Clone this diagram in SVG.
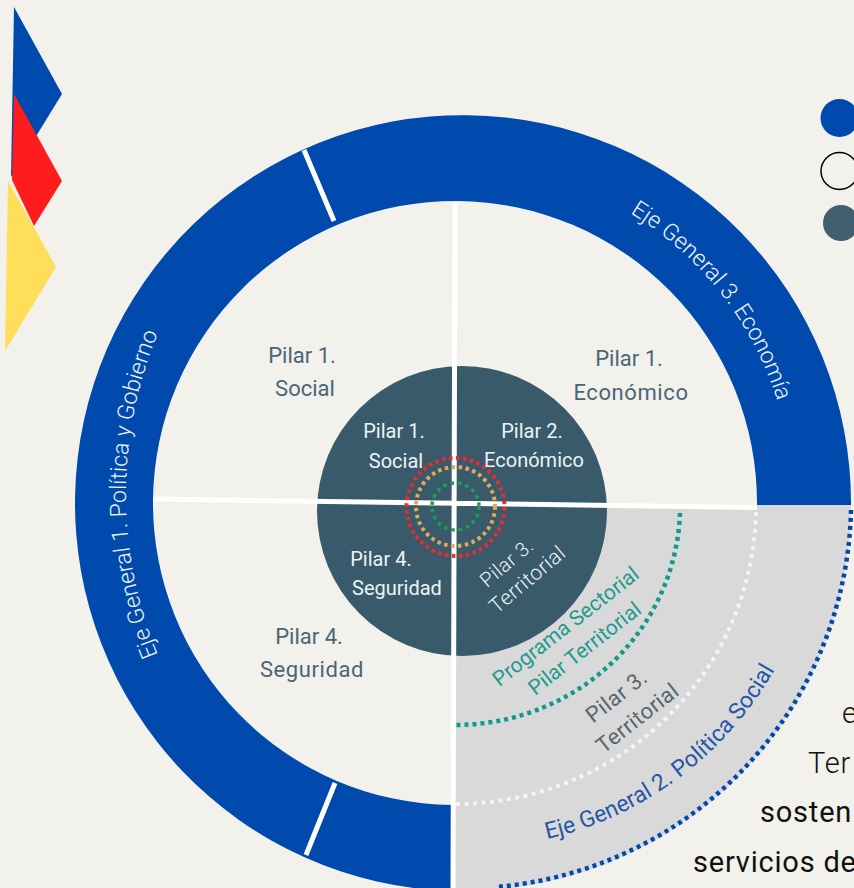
<svg xmlns="http://www.w3.org/2000/svg" width="854" height="888" viewBox="0 0 854 888">
<style>
text{font-family:"Roboto","Liberation Sans",sans-serif}
.w{fill:#eef3f4;font-size:20px;text-anchor:middle}
.r{fill:#eef3f4;font-size:23px;font-weight:300}
.s{fill:#4a6676;font-size:22px;text-anchor:middle}
.g{fill:#1c9c8e;font-size:21px;text-anchor:middle}
.t{fill:#55676f;font-size:22px;text-anchor:middle;letter-spacing:.4px}
.d{fill:none}
.b{fill:#111;font-size:29px;letter-spacing:.8px}
</style>
<defs>
<path id="arcR" d="M630 213A337 337 0 0 1 790 460" fill="none"/>
<path id="arcL" d="M158 655A420 420 0 0 1 171 305" fill="none"/>
<path id="arcB" d="M547 839A352 352 0 0 0 785 650" fill="none"/>
</defs>
<rect width="854" height="888" fill="#f2f1ec"/>
<g id="deco">
<polygon points="14,7 62,94 11,177" fill="#004aad"/>
<polygon points="14,94 62,181 34,226 12,180" fill="#ff1c1c"/>
<polygon points="8,181 56,267 5,351" fill="#ffde59"/>
</g>
<g id="legend">
<circle cx="839.500" cy="118" r="19" fill="#004aad"/>
<circle cx="839.500" cy="171" r="18.500" fill="#f2f1ec" stroke="#000" stroke-width="1.500"/>
<circle cx="841" cy="223" r="18" fill="#41606f"/>
</g>
<g id="ring">
<path d="M455 505L851 505A388 388 0 0 1 455 891Z" fill="#d9d9d9"/>
<path d="M757 505A302 302 0 1 0 452 805L452 891A388 388 0 1 1 851 505Z" fill="#004aad"/>
</g>
<g id="pillars">
<circle cx="462" cy="511" r="145" fill="#385a6b"/>
</g>
<g id="connectors">
<path d="M455 203L453 888M153 499L757 507.500M304 150L334 221M335 783L306 855" stroke="#fff" stroke-width="5" fill="none"/>
<path class="d" d="M680 513A225 220 0 0 1 455 725" stroke="#109a8e" stroke-width="4.500" stroke-dasharray="4 4"/>
<path class="d" d="M756 512A301 299 0 0 1 455 804" stroke="#f4f4f2" stroke-width="4" stroke-dasharray="4 4.500"/>
<path class="d" d="M851 510A387 387 0 0 1 495 887" stroke="#004aad" stroke-width="4.500" stroke-dasharray="4 4"/>
<circle class="d" cx="455.500" cy="507" r="49" stroke="#ee2a2a" stroke-width="4" stroke-dasharray="3.500 3.500"/>
<circle class="d" cx="455.500" cy="506.500" r="39.500" stroke="#e6a95a" stroke-width="4" stroke-dasharray="3.500 3.500"/>
<circle class="d" cx="455.500" cy="506.500" r="23.500" stroke="#1f9d55" stroke-width="3.500" stroke-dasharray="3.500 4"/>
</g>
<g id="labels">
<text class="r" textLength="244"><textPath href="#arcR">Eje General 3. Economía</textPath></text>
<text class="r" textLength="330"><textPath href="#arcL">Eje General 1. Política y Gobierno</textPath></text>
<text class="s" x="302" y="363">Pilar 1.</text>
<text class="s" x="305" y="396">Social</text>
<text class="s" x="629" y="366">Pilar 1.</text>
<text class="s" x="631" y="400" style="letter-spacing:.6px">Económico</text>
<text class="s" x="309" y="644">Pilar 4.</text>
<text class="s" x="312" y="677" style="letter-spacing:.6px">Seguridad</text>
<text class="w" x="394" y="438">Pilar 1.</text>
<text class="w" x="396" y="468">Social</text>
<text class="w" x="532" y="438">Pilar 2.</text>
<text class="w" x="534" y="467">Económico</text>
<text class="w" x="381" y="566">Pilar 4.</text>
<text class="w" x="397" y="595">Seguridad</text>
<text class="w" style="font-size:20px;font-weight:300;letter-spacing:.4px" transform="translate(511,568) rotate(-40)">Pilar 3.</text>
<text class="w" style="font-size:21px;font-weight:300;letter-spacing:.4px" transform="translate(532,585) rotate(-40)">Territorial</text>
<text class="g" transform="translate(570,632) rotate(-38)">Programa Sectorial</text>
<text class="g" transform="translate(589,654) rotate(-38)">Pilar Territorial</text>
<text class="t" transform="translate(621,702) rotate(-38)">Pilar 3.</text>
<text class="t" transform="translate(642,724) rotate(-38)">Territorial</text>
<text fill="#2457a8" style="font-size:23px" textLength="292"><textPath href="#arcB">Eje General 2. Política Social</textPath></text>
</g>
<g id="background-text">
<text class="b" x="842" y="723" style="font-weight:300">e</text>
<text class="b" x="808" y="773" style="font-weight:300">Ter</text>
<text class="b" x="760" y="822">sosten</text>
<text class="b" x="693" y="872">servicios de</text>
</g>
</svg>
